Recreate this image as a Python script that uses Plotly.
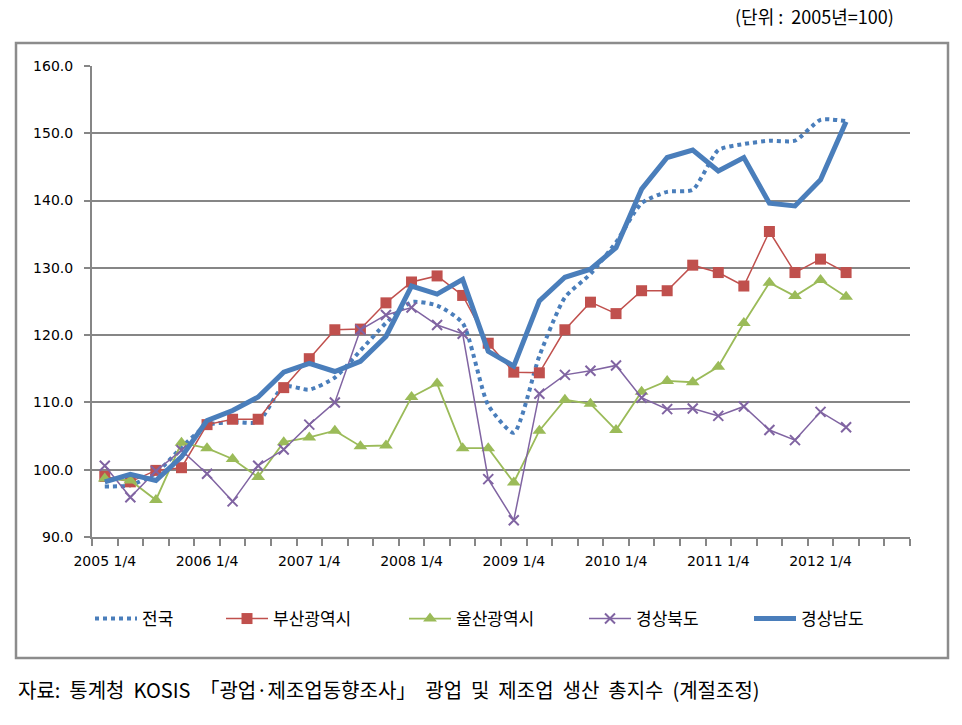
import plotly.graph_objects as go

quarters = ["2005 1/4", "2005 2/4", "2005 3/4", "2005 4/4",
            "2006 1/4", "2006 2/4", "2006 3/4", "2006 4/4",
            "2007 1/4", "2007 2/4", "2007 3/4", "2007 4/4",
            "2008 1/4", "2008 2/4", "2008 3/4", "2008 4/4",
            "2009 1/4", "2009 2/4", "2009 3/4", "2009 4/4",
            "2010 1/4", "2010 2/4", "2010 3/4", "2010 4/4",
            "2011 1/4", "2011 2/4", "2011 3/4", "2011 4/4",
            "2012 1/4", "2012 2/4"]
n_slots = 32  # axis has room for 32 quarters (through 2012 4/4)

national = [97.5, 97.7, 99.5, 103.3, 106.6, 107.1, 107.1, 112.4, 111.9, 113.7,
            117.7, 121.8, 124.9, 124.4, 121.8, 109.6, 105.5, 116.9, 125.6, 129.1,
            133.8, 139.6, 141.3, 141.6, 147.5, 148.4, 148.9, 148.9, 152.0, 151.8]
busan = [99.0, 98.2, 99.9, 100.3, 106.7, 107.5, 107.5, 112.2, 116.5, 120.8,
         120.9, 124.8, 127.9, 128.8, 125.9, 118.8, 114.5, 114.4, 120.8, 124.9,
         123.2, 126.6, 126.6, 130.4, 129.3, 127.3, 135.4, 129.3, 131.3, 129.3]
ulsan = [98.7, 98.4, 95.5, 104.0, 103.2, 101.6, 98.9, 104.1, 104.8, 105.8,
         103.5, 103.6, 110.8, 112.8, 103.2, 103.2, 98.1, 105.8, 110.4, 109.8,
         105.9, 111.6, 113.2, 113.0, 115.3, 121.8, 127.8, 125.8, 128.2, 125.7]
gyeongbuk = [100.6, 95.9, 99.8, 102.9, 99.4, 95.3, 100.6, 103.0, 106.7, 110.0,
             120.8, 123.0, 124.1, 121.5, 120.2, 98.6, 92.5, 111.3, 114.1, 114.7,
             115.5, 110.7, 109.0, 109.1, 108.0, 109.4, 105.9, 104.4, 108.6, 106.3]
gyeongnam = [98.2, 99.3, 98.4, 101.9, 107.3, 108.8, 110.8, 114.5, 115.8, 114.6,
             116.1, 119.8, 127.3, 126.1, 128.3, 117.6, 115.4, 125.1, 128.6, 129.8,
             133.0, 141.7, 146.4, 147.5, 144.4, 146.4, 139.6, 139.2, 143.1, 151.7]

series_names = ["전국", "부산광역시", "울산광역시", "경상북도", "경상남도"]
tick_every = 4

xs = list(range(len(quarters)))
BLUE, RED, GREEN, PURPLE = "#4A7EBB", "#C0504D", "#9BBB59", "#8064A2"
GRID = "#868686"

W, H = 962, 725
L, R, T, B = 92, 910, 66, 537
pw, ph = R - L, B - T


def px(x):
    return (x - L) / pw


def py(y):
    return (B - y) / ph


fig = go.Figure()
fig.add_trace(go.Scatter(x=xs, y=national, name=series_names[0], mode="lines",
                         line=dict(color=BLUE, width=4, dash="dot", shape="spline", smoothing=0.6),
                         legend="legend"))
fig.add_trace(go.Scatter(x=xs, y=busan, name=series_names[1], mode="lines+markers",
                         line=dict(color=RED, width=1.5),
                         marker=dict(symbol="square", size=11, color=RED),
                         legend="legend2"))
fig.add_trace(go.Scatter(x=xs, y=ulsan, name=series_names[2], mode="lines+markers",
                         line=dict(color=GREEN, width=1.8),
                         marker=dict(symbol="triangle-up", size=12, color=GREEN),
                         legend="legend3"))
fig.add_trace(go.Scatter(x=xs, y=gyeongbuk, name=series_names[3], mode="lines+markers",
                         line=dict(color=PURPLE, width=1.5),
                         marker=dict(symbol="x-thin", size=10, color=PURPLE,
                                     line=dict(color=PURPLE, width=2)),
                         legend="legend4"))
fig.add_trace(go.Scatter(x=xs, y=gyeongnam, name=series_names[4], mode="lines",
                         line=dict(color=BLUE, width=5),
                         legend="legend5"))

leg_font = dict(family="Noto Sans CJK KR", size=17, color="#000000")
leg_y = py(619)
legend_left_px = [90, 221, 404, 584, 749]
legends = {}
for i, lx in enumerate(legend_left_px):
    key = "legend" if i == 0 else f"legend{i + 1}"
    legends[key] = dict(x=px(lx), y=leg_y, xanchor="left", yanchor="middle",
                        orientation="h", font=leg_font, bgcolor="rgba(0,0,0,0)",
                        borderwidth=0, itemwidth=42)

fig.update_layout(
    width=W, height=H,
    margin=dict(l=L, r=W - R, t=T, b=H - B, pad=0),
    paper_bgcolor="white", plot_bgcolor="white",
    showlegend=True,
    **legends,
    xaxis=dict(range=[-0.5, n_slots - 0.5],
               tickvals=xs[::tick_every], ticktext=quarters[::tick_every],
               ticks="", showgrid=False, zeroline=False,
               showline=True, linecolor=GRID, linewidth=2,
               tickfont=dict(family="DejaVu Sans", size=14, color="#000000"),
               ticklabelstandoff=10,
               minor=dict(tickvals=[k - 0.5 for k in range(n_slots + 1)],
                          ticks="outside", ticklen=7, tickcolor=GRID, tickwidth=2,
                          showgrid=False)),
    yaxis=dict(range=[90, 160], dtick=10, tickformat=".1f",
               showgrid=True, gridcolor=GRID, gridwidth=2, zeroline=False,
               showline=True, linecolor=GRID, linewidth=2,
               ticks="outside", ticklen=6, tickcolor=GRID, tickwidth=2,
               ticklabelstandoff=8,
               tickfont=dict(family="DejaVu Sans", size=14, color="#000000")),
)

# outer frame
fig.add_shape(type="rect", xref="paper", yref="paper",
              x0=px(16), x1=px(948), y0=py(658), y1=py(43),
              line=dict(color="#8C8C8C", width=2.5), fillcolor="rgba(0,0,0,0)", layer="below")

NB = "\u00a0"
fig.add_annotation(text=f"(단위{NB}:{NB}{NB}2005년=100)", xref="paper", yref="paper",
                   x=px(896), y=py(16), xanchor="right", yanchor="middle", showarrow=False,
                   font=dict(family="Noto Sans CJK KR", size=18, color="#000000"))
source = "자료: 통계청 KOSIS 「광업·제조업동향조사」 광업 및 제조업 생산 총지수 (계절조정)"
fig.add_annotation(text=source.replace(" ", NB * 2),
                   xref="paper", yref="paper",
                   x=px(16), y=py(689), xanchor="left", yanchor="middle", showarrow=False,
                   font=dict(family="Noto Sans CJK KR", size=20, color="#000000"))

fig.write_html("out.html", config={"displayModeBar": False},
               post_script="document.body.style.margin='0';")
